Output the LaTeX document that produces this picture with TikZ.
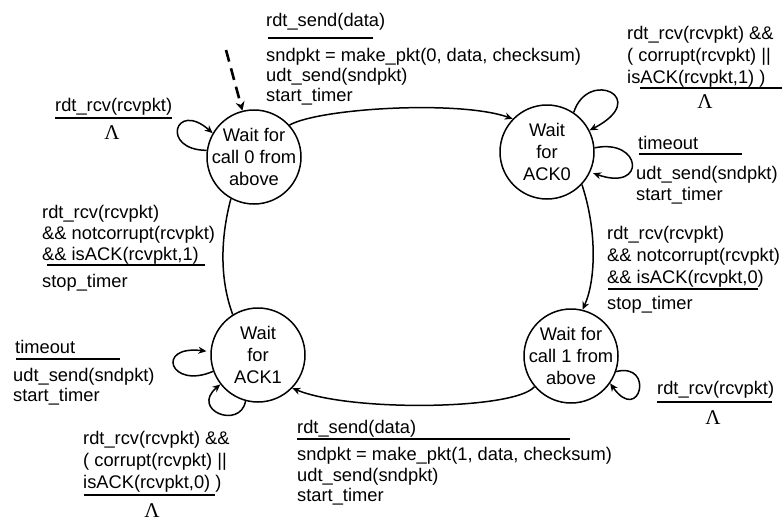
\documentclass[tikz,border=0pt]{standalone}
\usepackage{fontspec}
\setmainfont{Liberation Sans}
\newfontfamily\lamfont{Liberation Serif}
\usetikzlibrary{arrows.meta}

\tikzset{
  fsmstate/.style={draw, circle, line width=1.5pt, minimum size=94pt, inner sep=-20pt,
    align=center, font=\fontsize{18.3}{22}\selectfont},
  lbl/.style={anchor=north west, inner sep=0pt, align=left},
  rulebar/.style={line width=2.8pt},
  edge/.style={line width=1.5pt, -{Stealth[length=8pt,width=7pt]}},
  plainedge/.style={line width=1.5pt},
  lam/.style={inner sep=0pt, font=\lamfont\fontsize{21}{21}\selectfont},
  initarrow/.style={line width=2.6pt, dash pattern=on 12pt off 7pt,
    -{Stealth[length=9pt,width=9pt]}}
}
\newcommand{\fz}[1]{\fontsize{18.3}{#1}\selectfont}

\begin{document}
\begin{tikzpicture}[x=1pt,y=-1pt]
\useasboundingbox (0,0) rectangle (783,522);

% states
\node[fsmstate] (s0) at (254,157) {Wait for\\call 0 from\\above};
\node[fsmstate] (s1) at (547,152) {Wait\\for\\ACK0};
\node[fsmstate] (s2) at (571,356) {Wait for\\call 1 from\\above};
\node[fsmstate] (s3) at (258,355) {Wait\\for\\ACK1};

% initial transition
\coordinate (init) at (226,50);
\draw[initarrow] (init) -- (s0.104);

% transitions between states
\draw[edge] (s0.42) .. controls (320,108) and (460,100) .. (s1.136);
\draw[edge] (s1.-43) .. controls (597,230) and (596,280) .. (s2.76);
\draw[edge] (s2.220) .. controls (515,410) and (350,412) .. (s3.-44);
\draw[plainedge] (s3.122) .. controls (220,280) and (220,240) .. (s0.241);

% self loops
\draw[edge] (s0.172) .. controls (160,150) and (175,100) .. (s0.150);
\draw[edge] (s1.56) .. controls (588,68) and (652,98) .. (s1.27);
\draw[edge, shorten >=3pt] (s1.5) .. controls (642,138) and (647,192) .. (s1.-25);
\draw[edge] (s2.-19) .. controls (655,362) and (640,425) .. (s2.-35);
\draw[edge, shorten >=4pt] (s3.200) .. controls (170,390) and (155,345) .. (s3.176);
\draw[edge] (s3.255) .. controls (240,430) and (190,410) .. (s3.218);

% call 0 -> ACK0
\node[lbl, font=\fz{20}] (aG) at (266,13.3) {rdt\_send(data)};
\draw[rulebar] (268,38) -- (373,38);
\node[lbl, font=\fz{20}] (aA) at (266,48.3) {sndpkt = make\_pkt(0, data, checksum)\\udt\_send(sndpkt)\\start\_timer};

% ACK0 ignore loop
\node[lbl, font=\fz{22}] (bG) at (627,26.3) {rdt\_rcv(rcvpkt) \&\&\\( corrupt(rcvpkt) ||\\isACK(rcvpkt,1) )};
\draw[rulebar] (640,88) -- (782,88);
\node[lam] (bL) at (705,102) {Λ};

% ACK0 timeout loop
\node[lbl, font=\fz{21}] (cG) at (638,136.3) {timeout};
\draw[rulebar] (639,154) -- (742,154);
\node[lbl, font=\fz{21}] (cA) at (636,166.3) {udt\_send(sndpkt)\\start\_timer};

% ACK0 -> call 1
\node[lbl, font=\fz{22}] (dG) at (607,226.3) {rdt\_rcv(rcvpkt)\\\&\& notcorrupt(rcvpkt)\\\&\& isACK(rcvpkt,0)};
\draw[rulebar] (608,289) -- (758,289);
\node[lbl, font=\fz{21}] (dA) at (607,296.3) {stop\_timer};

% call 1 loop
\node[lbl, font=\fz{21}] (eG) at (657,381.3) {rdt\_rcv(rcvpkt)};
\draw[rulebar] (657,402) -- (772,402);
\node[lam] (eL) at (713,418) {Λ};

% call 1 -> ACK1
\node[lbl, font=\fz{20.5}] (fG) at (297,420.3) {rdt\_send(data)};
\draw[rulebar] (297,439) -- (570,439);
\node[lbl, font=\fz{20.5}] (fA) at (297,447.3) {sndpkt = make\_pkt(1, data, checksum)\\udt\_send(sndpkt)\\start\_timer};

% ACK1 ignore loop
\node[lbl, font=\fz{22}] (gG) at (83,431.3) {rdt\_rcv(rcvpkt) \&\&\\( corrupt(rcvpkt) ||\\isACK(rcvpkt,0) )};
\draw[rulebar] (84,495) -- (215,495);
\node[lam] (gL) at (152,511) {Λ};

% ACK1 timeout loop
\node[lbl, font=\fz{20}] (hG) at (15,340.3) {timeout};
\draw[rulebar] (16,359) -- (120,359);
\node[lbl, font=\fz{20}] (hA) at (13,368.3) {udt\_send(sndpkt)\\start\_timer};

% ACK1 -> call 0
\node[lbl, font=\fz{21}] (iG) at (42,205.3) {rdt\_rcv(rcvpkt)\\\&\& notcorrupt(rcvpkt)\\\&\& isACK(rcvpkt,1)};
\draw[rulebar] (47,265) -- (205,265);
\node[lbl, font=\fz{21}] (iA) at (42,274.3) {stop\_timer};

% call 0 loop
\node[lbl, font=\fz{21}] (jG) at (55,98.3) {rdt\_rcv(rcvpkt)};
\draw[rulebar] (55,118) -- (172,118);
\node[lam] (jL) at (112,133) {Λ};
\end{tikzpicture}
\end{document}
